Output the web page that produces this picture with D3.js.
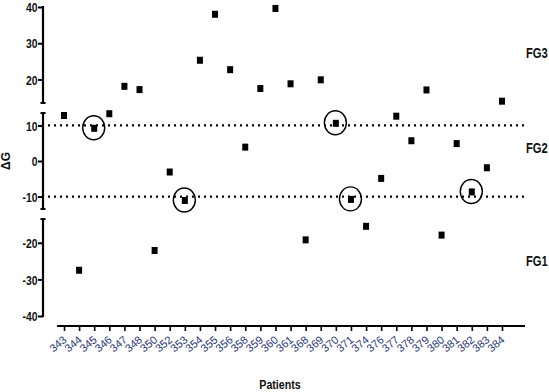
<!DOCTYPE html>
<html><head><meta charset="utf-8">
<script src="https://cdn.jsdelivr.net/npm/d3@7"></script>
<style>
html,body{margin:0;padding:0;background:#fff;}
svg{display:block;}
</style></head>
<body>
<script>
const patients = ["343","344","345","346","347","348","350","352","353","354","355","356","358","359","360","361","368","369","370","371","374","376","377","378","379","380","381","382","383","384"];
const deltaG = [12.8,-27.5,9.2,13.3,18.1,17.2,-22.1,-3.1,-11.1,25.3,38.0,22.7,3.9,17.5,39.6,18.8,-19.2,19.9,10.6,-10.8,-15.5,-4.9,12.6,5.7,17.1,-17.9,4.9,-8.7,-1.9,14.0];
const circled = ["345","353","370","371","382"];
const yTicks = [40,30,20,10,0,-10,-20,-30,-40];
const thresholds = [10,-10];
const groupLabels = ["FG3","FG2","FG1"];

const W = 549, H = 392;
const sans = "'Liberation Sans',Arial,sans-serif";
const svg = d3.select("body").append("svg").attr("width",W).attr("height",H);

const x = d3.scalePoint().domain(patients).range([64,502]);
const eps = 0.0001;
const y = d3.scaleLinear()
  .domain([-40,-13.5,-13.5+eps,13.5,13.5+eps,40])
  .range([316,219,209,113,103,7]);
const segRanges = [[316,219],[209,113],[103,7]];

const axX = 43;
// Y axis ticks & labels
const yAxis = d3.axisLeft(y).tickValues(yTicks).tickSize(5).tickSizeOuter(0).tickFormat(d=>String(d));
const gy = svg.append("g").attr("transform",`translate(${axX},0)`).call(yAxis);
gy.select(".domain").remove();
gy.selectAll(".tick line").attr("stroke","#000").attr("stroke-width",2);
gy.selectAll(".tick text").attr("font-family",sans).attr("font-weight","bold").attr("font-size",13)
  .attr("fill","#111").attr("dy","0.36em").attr("x",0)
  .attr("transform","translate(-5.5,0) scale(0.8,1)");
// axis segments
svg.append("g").selectAll("line").data(segRanges).join("line")
  .attr("x1",axX).attr("x2",axX).attr("y1",d=>d[0]+(d[0]===316?1:0)).attr("y2",d=>d[1]-(d[1]===7?1:0))
  .attr("stroke","#000").attr("stroke-width",2.2);
// break caps
const caps = [219,209,113,103];
svg.append("g").selectAll("line").data(caps).join("line")
  .attr("x1",axX-2.5).attr("x2",axX+2.5).attr("y1",d=>d).attr("y2",d=>d)
  .attr("stroke","#000").attr("stroke-width",2);

// X axis
const gx = svg.append("g").attr("transform","translate(0,326)");
gx.append("line").attr("x1",x(patients[0])-7).attr("x2",x(patients[patients.length-1])+23)
  .attr("y1",0).attr("y2",0).attr("stroke","#000").attr("stroke-width",2.2);
const xAxis = d3.axisBottom(x).tickSize(5).tickSizeOuter(0);
const gxa = gx.append("g").call(xAxis);
gxa.select(".domain").remove();
gxa.selectAll(".tick line").attr("stroke","#000").attr("stroke-width",1.6);
gxa.selectAll(".tick text")
  .attr("font-family",sans).attr("font-size",11).attr("fill","#1f3578")
  .attr("text-anchor","end").attr("dy",0).attr("y",0)
  .attr("transform","translate(3,15) rotate(-40)");

// dotted threshold lines
svg.append("g").selectAll("line").data(thresholds).join("line")
  .attr("x1",48).attr("x2",525).attr("y1",d=>y(d)).attr("y2",d=>y(d))
  .attr("stroke","#000").attr("stroke-width",2.2).attr("stroke-dasharray","2,4");

// points
const data = patients.map((p,i)=>({p, v:deltaG[i]}));
svg.append("g").selectAll("rect").data(data).join("rect")
  .attr("x",d=>x(d.p)-3).attr("y",d=>y(d.v)-3.5).attr("width",6).attr("height",7).attr("fill","#000");
// circles
svg.append("g").selectAll("ellipse").data(data.filter(d=>circled.includes(d.p))).join("ellipse")
  .attr("cx",d=>x(d.p)-0.5).attr("cy",d=>y(d.v)-0.5).attr("rx",11).attr("ry",12)
  .attr("fill","none").attr("stroke","#000").attr("stroke-width",1.4);

// group labels
svg.append("g").selectAll("text").data(groupLabels).join("text")
  .attr("transform",(d,i)=>`translate(526,${[58,153,266][i]}) scale(0.8,1)`)
  .attr("font-family",sans).attr("font-weight","bold").attr("font-size",14).attr("fill","#111")
  .text(d=>d);

// axis titles
svg.append("text").attr("transform","translate(10,161) rotate(-90)").attr("text-anchor","middle")
  .attr("font-family",sans).attr("font-weight","bold").attr("font-size",12).attr("fill","#111")
  .text("ΔG");
svg.append("text").attr("transform","translate(280,389) scale(0.82,1)").attr("text-anchor","middle")
  .attr("font-family",sans).attr("font-weight","bold").attr("font-size",13).attr("fill","#111")
  .text("Patients");
</script>
</body></html>
